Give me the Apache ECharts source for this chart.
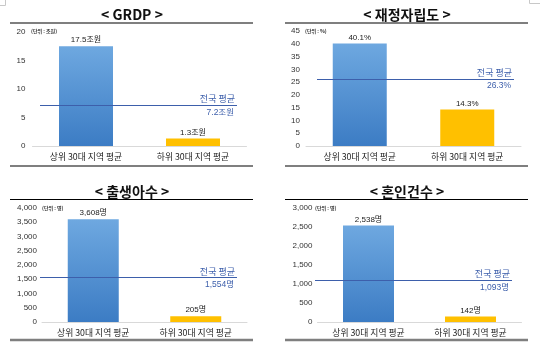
<!DOCTYPE html>
<html><head><meta charset="utf-8">
<script src="https://cdn.jsdelivr.net/npm/echarts@6/dist/echarts.min.js"></script>
<style>html,body{margin:0;padding:0;background:#fff}#c{width:540px;height:349px}</style>
</head><body><div id="c"></div><script>
// ---- data ----
const titles = ['< GRDP >', '< 재정자립도 >', '< 출생아수 >', '< 혼인건수 >'];
const categories = ['상위 30대 지역 평균', '하위 30대 지역 평균'];
const grdpValues = [17.5, 1.3];
const grdpAvg = 7.2;
const fiscalValues = [40.1, 14.3];
const fiscalAvg = 26.3;
const birthValues = [3608, 205];
const birthAvg = 1554;
const marriageValues = [2538, 142];
const marriageAvg = 1093;
const units = ['(단위 : 조원)', '(단위 : %)', '(단위 : 명)', '(단위 : 명)'];
const suffixes = ['조원', '%', '명', '명'];
const avgLabel = '전국 평균';
const yMax = [20, 45, 4000, 3000];
const yInterval = [5, 5, 500, 500];

const seriesValues = [grdpValues, fiscalValues, birthValues, marriageValues];
const avgs = [grdpAvg, fiscalAvg, birthAvg, marriageAvg];

// ---- layout / style ----
const layout = [
  {left:32.5, top:32, width:214, height:114, margin:7, barWidth:54, lineX:[40,237], titleX:132, titleY:15, unitX:31, unitY:31},
  {left:306, top:31, width:215, height:115, margin:6, barWidth:54, lineX:[317,514], titleX:407, titleY:15, unitX:305, unitY:31},
  {left:42, top:208, width:205, height:114, margin:5, barWidth:51, lineX:[40,237], titleX:132, titleY:192, unitX:42, unitY:208},
  {left:317.5, top:208, width:204, height:114, margin:5, barWidth:51, lineX:[315,512], titleX:407, titleY:192, unitX:315, unitY:208}
];
const FONT = "'Liberation Sans', 'Noto Sans CJK KR', sans-serif";
const KFONT = "'Noto Sans CJK KR', sans-serif";
const blueGrad = new echarts.graphic.LinearGradient(0,0,0,1,[{offset:0,color:'#6ea8e0'},{offset:1,color:'#3c7cc4'}]);
const yellow = '#FFC000';
const avgColor = '#3d5fab';
const fmt = v => v.toLocaleString('en-US');

const chart = echarts.init(document.getElementById('c'), null, {renderer:'canvas'});

const grid = [], xAxis = [], yAxis = [], series = [], graphic = [];
layout.forEach((L, i) => {
  grid.push({left:L.left, top:L.top, width:L.width, height:L.height, containLabel:false});
  xAxis.push({type:'category', gridIndex:i, data:categories,
    axisLine:{show:true, lineStyle:{color:'#d9d9d9', width:1}}, axisTick:{show:false},
    axisLabel:{fontSize:8.8, color:'#222', margin:6, fontFamily:KFONT}});
  yAxis.push({type:'value', gridIndex:i, min:0, max:yMax[i], interval:yInterval[i],
    axisLine:{show:false}, axisTick:{show:false}, splitLine:{show:false},
    axisLabel:{fontSize:8, color:'#333', margin:L.margin, fontFamily:FONT, formatter:v => fmt(v)}});
  const vals = seriesValues[i];
  series.push({type:'bar', xAxisIndex:i, yAxisIndex:i, barWidth:L.barWidth,
    data:[{value:vals[0], itemStyle:{color:blueGrad}}, {value:vals[1], itemStyle:{color:yellow}}],
    label:{show:true, position:'top', distance:2, fontSize:8, color:'#222', fontFamily:FONT,
      formatter:p => fmt(p.value) + suffixes[i]},
    markLine:{silent:true, symbol:'none', animation:false,
      lineStyle:{color:avgColor, width:1, type:'solid'},
      data:[
        [{x:L.lineX[0], yAxis:avgs[i], label:{show:true, position:'insideEndTop', distance:2, formatter:avgLabel, fontSize:9, color:avgColor, fontFamily:KFONT}},
         {x:L.lineX[1], yAxis:avgs[i]}],
        [{x:L.lineX[0], yAxis:avgs[i], lineStyle:{color:'rgba(0,0,0,0)'}, label:{show:true, position:'insideEndBottom', distance:3, formatter:fmt(avgs[i]) + suffixes[i], fontSize:8.5, color:avgColor, fontFamily:FONT}},
         {x:L.lineX[1], yAxis:avgs[i]}]
      ]}
  });
  graphic.push({type:'text', x:L.titleX, y:L.titleY, style:{text:titles[i], align:'center', verticalAlign:'middle',
    font:"bold 14px 'Noto Sans CJK KR', sans-serif", fill:'#111'}});
  graphic.push({type:'text', x:L.unitX, y:L.unitY, style:{text:units[i], align:'left', verticalAlign:'middle',
    font:"bold 5px 'Noto Sans CJK KR', sans-serif", fill:'#333'}});
});
// rules
const rules = [
  {x1:10, x2:253, y:23, c:'#7f7f7f', w:2},
  {x1:285, x2:528, y:23, c:'#7f7f7f', w:2},
  {x1:10, x2:253, y:166, c:'#7f7f7f', w:2},
  {x1:285, x2:528, y:166, c:'#7f7f7f', w:2},
  {x1:10, x2:253, y:199.5, c:'#000', w:1},
  {x1:285, x2:528, y:199.5, c:'#000', w:1},
  {x1:10, x2:253, y:340, c:'#7f7f7f', w:2.5},
  {x1:285, x2:528, y:340, c:'#7f7f7f', w:2.5}
];
rules.forEach(r => graphic.push({type:'line', shape:{x1:r.x1, y1:r.y, x2:r.x2, y2:r.y}, style:{stroke:r.c, lineWidth:r.w}}));
// corner marks
graphic.push({type:'polyline', shape:{points:[[0,5.5],[5.5,5.5],[5.5,0]]}, style:{stroke:'#c8c8c8', lineWidth:1, fill:null}});
graphic.push({type:'polyline', shape:{points:[[529.5,0],[529.5,3.5],[540,3.5]]}, style:{stroke:'#c8c8c8', lineWidth:1, fill:null}});

chart.setOption({animation:false, grid, xAxis, yAxis, series, graphic});
</script></body></html>
